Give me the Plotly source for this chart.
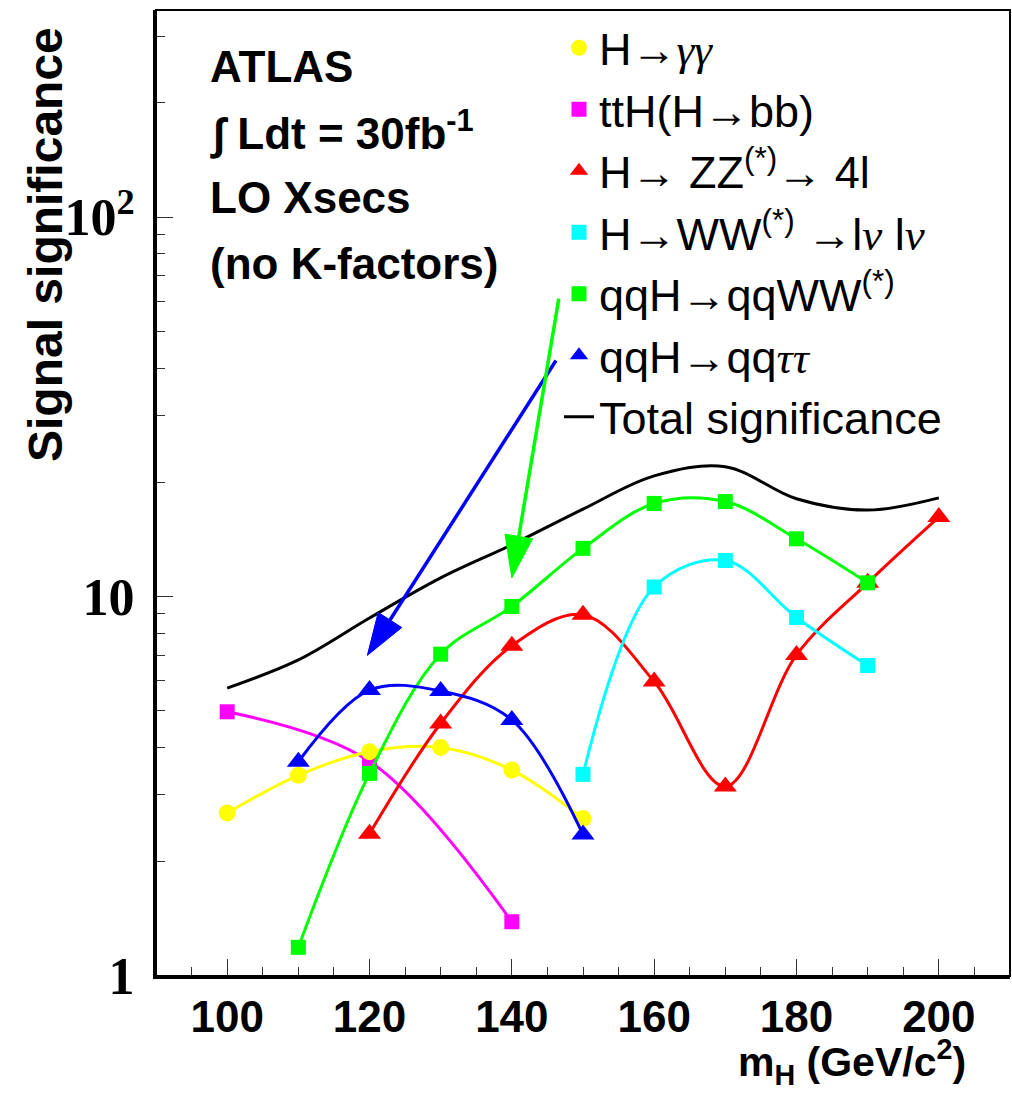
import math
import plotly.graph_objects as go

# ---------------- data ----------------
hgg_x = [100, 110, 120, 130, 140, 150]
hgg_y = [2.69, 3.38, 3.90, 4.00, 3.49, 2.60]

tth_x = [100, 120, 140]
tth_y = [4.97, 3.68, 1.39]

zz_x = [120, 130, 140, 150, 160, 170, 180, 190, 200]
zz_y = [2.37, 4.63, 7.42, 8.96, 5.97, 3.16, 7.02, 10.87, 16.2]

ww_x = [150, 160, 170, 180, 190]
ww_y = [3.40, 10.6, 12.45, 8.81, 6.58]

qqww_x = [110, 120, 130, 140, 150, 160, 170, 180, 190]
qqww_y = [1.19, 3.42, 7.05, 9.42, 13.4, 17.6, 17.8, 14.2, 10.87]

qqtt_x = [110, 120, 130, 140, 150]
qqtt_y = [3.67, 5.67, 5.64, 4.73, 2.36]

total_x = [100, 110, 120, 130, 140, 150, 160, 170, 180, 190, 200]
total_y = [5.74, 6.81, 8.78, 11.2, 13.7, 17.0, 20.8, 22.0, 18.1, 16.9, 18.2]

threshold = 5

x_ticks = [100, 120, 140, 160, 180, 200]
y_ticks = [1, 10, 100]
y_ticktext = ["1", "10", "10<sup>2</sup>"]

# arrows (data coords): tail -> tip
arrows = [
    {"tail": (146.2, 41.9), "tip": (119.7, 7.0), "color": "#0000ff"},
    {"tail": (146.6, 61.0), "tip": (140.0, 11.2), "color": "#00ff00"},
]

# ---------------- layout geometry ----------------
W, H = 1012, 1095
ML, MR, MT, MB = 156, 2, 10, 119
PW, PH = W - ML - MR, H - MT - MB
XR = [90, 210]
YR = [0, 2.546]


def to_px(x, y):
    px = ML + (x - XR[0]) / (XR[1] - XR[0]) * PW
    py = MT + (YR[1] - math.log10(y)) / (YR[1] - YR[0]) * PH
    return px, py


def to_paper(px, py):
    return (px - ML) / PW, 1 - (py - MT) / PH


sans = "Liberation Sans, Arial, Helvetica, sans-serif"
serif = "Liberation Serif, Times New Roman, serif"
greek = "<i><span style='font-family:Liberation Serif'>{}</span></i>"

fig = go.Figure()

series = [
    ("ttH(H→bb)", tth_x, tth_y, "#ff00ff", "square", 15, 2),
    ("H→" + greek.format("γγ"), hgg_x, hgg_y, "#ffff00", "circle", 17, 1),
    ("H→ ZZ<sup>(*)</sup>→ 4l", zz_x, zz_y, "#ff0000", "triangle-up", 20, 3),
    ("H→WW<sup>(*)</sup> →l" + greek.format("ν") + " l" + greek.format("ν"),
     ww_x, ww_y, "#00ffff", "square", 15, 4),
    ("qqH→qqWW<sup>(*)</sup>", qqww_x, qqww_y, "#00ff00", "square", 15, 5),
    ("qqH→qq" + greek.format("ττ"), qqtt_x, qqtt_y, "#0000ff", "triangle-up", 20, 6),
]

for name, xs, ys, col, sym, sz, rank in series:
    fig.add_trace(go.Scatter(
        x=xs, y=ys, mode="lines+markers",
        line=dict(color=col, width=3, shape="spline", smoothing=1.0),
        marker=dict(color=col, symbol=sym, size=sz),
        showlegend=False, hoverinfo="skip",
    ))
    # legend entry (marker only)
    fig.add_trace(go.Scatter(
        x=[None], y=[None], mode="markers", name=name,
        marker=dict(color=col, symbol=sym, size=sz),
        legendrank=rank, legendgroup=name, showlegend=True,
    ))

fig.add_trace(go.Scatter(
    x=total_x, y=total_y, mode="lines", name="Total significance",
    line=dict(color="black", width=3, shape="spline", smoothing=1.0),
    legendrank=7, legendgroup="total", hoverinfo="skip",
))

shapes = []
# threshold dashed line
shapes.append(dict(type="line", xref="paper", yref="y", x0=0, x1=1,
                   y0=math.log10(threshold), y1=math.log10(threshold),
                   line=dict(color="black", width=2, dash="6px,5px"), layer="below"))
# frame
shapes.append(dict(type="rect", xref="paper", yref="paper", x0=0, x1=1, y0=0, y1=1,
                   line=dict(color="black", width=2)))

# arrows
HEAD_LEN, HEAD_HW = 42, 14
for a in arrows:
    tx, ty = to_px(*a["tail"])
    hx, hy = to_px(*a["tip"])
    dx, dy = tx - hx, ty - hy
    L = math.hypot(dx, dy)
    ux, uy = dx / L, dy / L
    bx, by = hx + ux * HEAD_LEN, hy + uy * HEAD_LEN
    nx, ny = -uy, ux
    c1 = (bx + nx * HEAD_HW, by + ny * HEAD_HW)
    c2 = (bx - nx * HEAD_HW, by - ny * HEAD_HW)
    p_t = to_paper(tx, ty)
    p_b = to_paper(bx, by)
    shapes.append(dict(type="line", xref="paper", yref="paper",
                       x0=p_t[0], y0=p_t[1], x1=p_b[0], y1=p_b[1],
                       line=dict(color=a["color"], width=3.5)))
    pts = [to_paper(hx, hy), to_paper(*c1), to_paper(*c2)]
    path = "M {} {} L {} {} L {} {} Z".format(pts[0][0], pts[0][1], pts[1][0], pts[1][1],
                                              pts[2][0], pts[2][1])
    shapes.append(dict(type="path", xref="paper", yref="paper", path=path,
                       fillcolor=a["color"], line=dict(color=a["color"], width=1)))

annotations = []
atlas_lines = ["ATLAS", "∫ Ldt = 30fb<sup>-1</sup>", "LO Xsecs", "(no K-factors)"]
atlas_y = [66, 131, 198, 263]
for txt, yy in zip(atlas_lines, atlas_y):
    fx, fy = to_paper(208, yy)
    annotations.append(dict(text=txt, x=fx, y=fy, xref="paper", yref="paper",
                            xanchor="left", yanchor="middle", showarrow=False,
                            font=dict(family=sans, size=44, color="black", weight="bold")))

fx, fy = to_paper(45, 245)
annotations.append(dict(text="Signal significance", x=fx, y=fy, xref="paper", yref="paper",
                        textangle=-90, xanchor="center", yanchor="middle", showarrow=False,
                        font=dict(family=sans, size=48, color="black", weight="bold")))
fx, fy = to_paper(968, 1062)
annotations.append(dict(text="m<sub>H</sub> (GeV/c<sup>2</sup>)", x=fx, y=fy, xref="paper", yref="paper",
                        xanchor="right", yanchor="middle", showarrow=False,
                        font=dict(family=sans, size=41, color="black", weight="bold")))

x_minor = [v for v in range(95, 210, 5) if v not in x_ticks]
y_minor = [m * 10 ** d for d in range(0, 3) for m in range(2, 10) if m * 10 ** d < 10 ** YR[1]]

fig.update_layout(
    width=W, height=H,
    margin=dict(l=ML, r=MR, t=MT, b=MB),
    paper_bgcolor="white", plot_bgcolor="white",
    shapes=shapes, annotations=annotations,
    showlegend=True,
    legend=dict(x=to_paper(559, 0)[0], y=to_paper(0, 12)[1], xanchor="left", yanchor="top",
                bgcolor="rgba(0,0,0,0)", borderwidth=0,
                font=dict(family=sans, size=45, color="black"),
                traceorder="normal", itemsizing="trace", tracegroupgap=0),
    xaxis=dict(range=XR, showgrid=False, zeroline=False,
               showline=True, linecolor="black", linewidth=3,
               tickmode="array", tickvals=x_ticks, ticktext=[str(v) for v in x_ticks],
               ticks="inside", ticklen=17, tickwidth=1, tickcolor="#333",
               tickfont=dict(family=sans, size=44, color="black", weight="bold"),
               ticklabelstandoff=0,
               minor=dict(tickmode="array", tickvals=x_minor, ticks="inside", ticklen=9,
                          tickwidth=1, tickcolor="#333", showgrid=False)),
    yaxis=dict(type="log", range=YR, showgrid=False, zeroline=False,
               showline=True, linecolor="black", linewidth=3,
               tickmode="array", tickvals=y_ticks, ticktext=y_ticktext,
               ticks="inside", ticklen=17, tickwidth=1, tickcolor="#333",
               tickfont=dict(family=serif, size=52, color="black", weight="bold"),
               ticklabelstandoff=8,
               minor=dict(tickmode="array", tickvals=y_minor, ticks="inside", ticklen=9,
                          tickwidth=1, tickcolor="#333", showgrid=False)),
)

fig.write_html("out.html")
